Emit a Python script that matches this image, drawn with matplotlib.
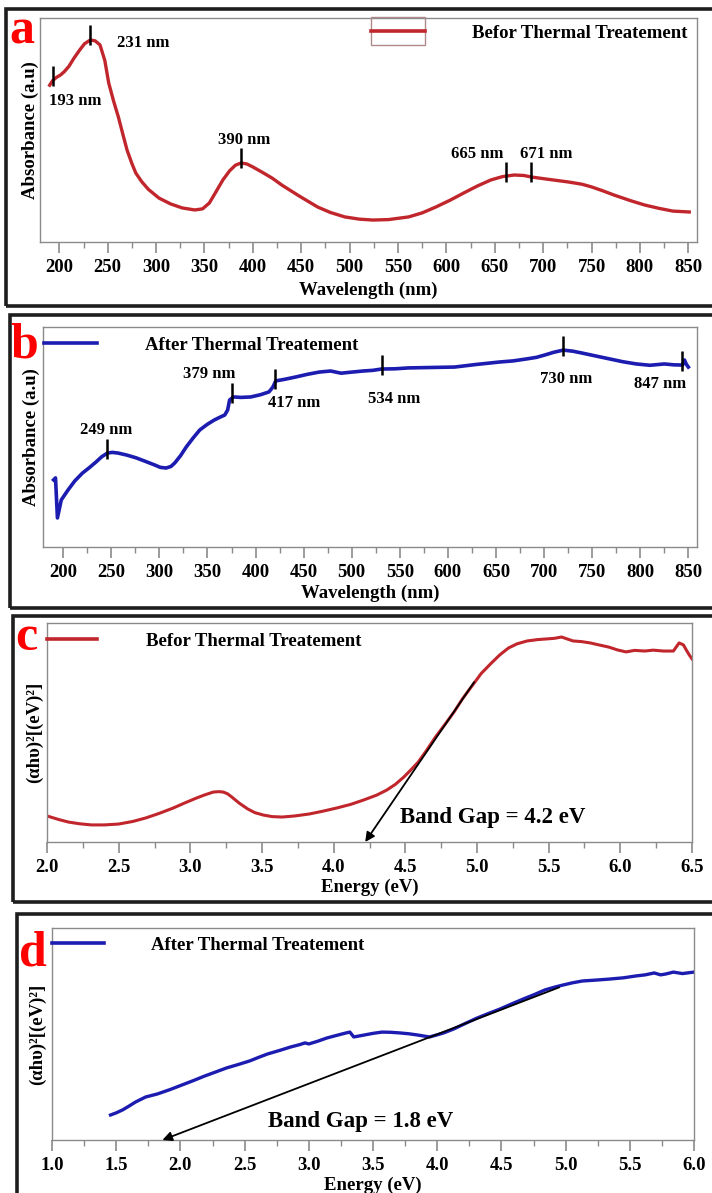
import numpy as np
import matplotlib
matplotlib.use('Agg')
import matplotlib.pyplot as plt
from matplotlib.patches import Rectangle
from matplotlib.ticker import MultipleLocator, FormatStrFormatter

# ---- data (absorbance in arbitrary units, 0..1 of the axis) ----
wl_a = [190, 193, 197, 201, 205, 210, 215, 221, 226, 232, 237, 242, 247, 251, 256, 261,
        266, 270, 275, 279, 285, 292, 303, 315, 327, 340, 348, 355, 362, 369, 376, 382,
        388, 394, 400, 411, 420, 430, 448, 467, 480, 495, 510, 524, 540, 561, 575, 589,
        604, 618, 632, 646, 658, 670, 680, 688, 705, 726, 740, 750, 762, 773, 790, 805,
        820, 834, 851]
abs_a = [0.70, 0.72, 0.735, 0.745, 0.76, 0.785, 0.82, 0.857, 0.885, 0.902, 0.898, 0.88,
         0.81, 0.71, 0.63, 0.558, 0.475, 0.41, 0.35, 0.308, 0.27, 0.235, 0.196, 0.17,
         0.152, 0.143, 0.148, 0.174, 0.225, 0.277, 0.318, 0.343, 0.353, 0.348, 0.335,
         0.308, 0.285, 0.254, 0.205, 0.156, 0.132, 0.112, 0.102, 0.098, 0.10, 0.112,
         0.13, 0.156, 0.187, 0.219, 0.25, 0.277, 0.292, 0.299, 0.297, 0.29, 0.28, 0.268,
         0.258, 0.246, 0.228, 0.21, 0.185, 0.165, 0.15, 0.138, 0.134]
peaks_a = [193, 232, 388, 662, 687]
peak_labels_a = ['193 nm', '231 nm', '390 nm', '665 nm', '671 nm']

wl_b = [190, 192, 194, 198, 205, 212, 220, 227, 234, 240, 246, 251, 257, 266, 276, 285,
        295, 301, 307, 312, 316, 322, 328, 335, 342, 350, 357, 363, 368, 371, 373, 377,
        385, 395, 405, 414, 418, 421, 430, 442, 454, 466, 478, 489, 500, 512, 522, 531,
        545, 559, 583, 607, 630, 654, 668, 682, 692, 701, 710, 720, 730, 739, 754, 768,
        782, 796, 810, 825, 835, 844, 846, 848, 850]
abs_b = [0.305, 0.314, 0.132, 0.214, 0.259, 0.30, 0.336, 0.36, 0.386, 0.41, 0.427, 0.43,
         0.427, 0.418, 0.405, 0.39, 0.373, 0.362, 0.359, 0.366, 0.382, 0.415, 0.455,
         0.495, 0.532, 0.558, 0.577, 0.59, 0.60, 0.623, 0.668, 0.682, 0.680, 0.682,
         0.692, 0.705, 0.727, 0.755, 0.762, 0.773, 0.785, 0.795, 0.80, 0.79, 0.795, 0.80,
         0.803, 0.809, 0.81, 0.814, 0.816, 0.818, 0.83, 0.841, 0.846, 0.855, 0.862,
         0.873, 0.885, 0.895, 0.89, 0.882, 0.868, 0.855, 0.842, 0.832, 0.826, 0.832,
         0.828, 0.827, 0.85, 0.83, 0.818]
peaks_b = [246, 376, 420, 531, 720, 843]
peak_labels_b = ['249 nm', '379 nm', '417 nm', '534 nm', '730 nm', '847 nm']

ev_c = [2.0, 2.08, 2.15, 2.23, 2.31, 2.4, 2.5, 2.6, 2.69, 2.78, 2.88, 2.96, 3.04, 3.1,
        3.16, 3.2, 3.23, 3.26, 3.29, 3.34, 3.40, 3.45, 3.51, 3.57, 3.64, 3.73, 3.83,
        3.92, 4.02, 4.12, 4.21, 4.3, 4.37, 4.43, 4.49, 4.54, 4.59, 4.65, 4.71, 4.78,
        4.84, 4.9, 4.97, 5.03, 5.10, 5.16, 5.22, 5.28, 5.35, 5.42, 5.48, 5.54, 5.59,
        5.63, 5.67, 5.73, 5.79, 5.85, 5.92, 5.98, 6.04, 6.1, 6.17, 6.23, 6.30, 6.37,
        6.41, 6.44, 6.46, 6.48, 6.5]
tauc_c = [0.119, 0.103, 0.091, 0.083, 0.078, 0.078, 0.082, 0.094, 0.11, 0.13, 0.155,
          0.178, 0.20, 0.215, 0.228, 0.23, 0.228, 0.22, 0.205, 0.178, 0.151, 0.134,
          0.123, 0.116, 0.114, 0.119, 0.128, 0.14, 0.155, 0.172, 0.192, 0.214, 0.237,
          0.263, 0.297, 0.33, 0.365, 0.42, 0.479, 0.54, 0.594, 0.655, 0.717, 0.77, 0.817,
          0.855, 0.886, 0.905, 0.918, 0.924, 0.927, 0.93, 0.936, 0.927, 0.918, 0.915,
          0.909, 0.90, 0.89, 0.877, 0.868, 0.875, 0.872, 0.876, 0.872, 0.872, 0.909,
          0.90, 0.877, 0.855, 0.836]
fit_c = [(4.98, 0.73), (4.22, 0.0)]
gap_c = 4.2

ev_d = [1.456, 1.5, 1.55, 1.6, 1.65, 1.73, 1.82, 1.92, 2.01, 2.1, 2.19, 2.28, 2.36, 2.45,
        2.54, 2.61, 2.68, 2.77, 2.86, 2.93, 2.97, 3.0, 3.07, 3.14, 3.22, 3.29, 3.32,
        3.35, 3.43, 3.5, 3.57, 3.64, 3.71, 3.78, 3.85, 3.94, 4.0, 4.05, 4.13, 4.22, 4.31,
        4.4, 4.49, 4.58, 4.67, 4.76, 4.84, 4.92, 4.98, 5.05, 5.13, 5.23, 5.34, 5.45,
        5.55, 5.62, 5.69, 5.74, 5.78, 5.84, 5.91, 5.96, 6.0]
tauc_d = [0.118, 0.128, 0.142, 0.16, 0.179, 0.203, 0.217, 0.238, 0.259, 0.28, 0.302,
          0.322, 0.34, 0.356, 0.373, 0.39, 0.406, 0.422, 0.439, 0.45, 0.458, 0.453,
          0.466, 0.481, 0.494, 0.505, 0.509, 0.486, 0.495, 0.503, 0.509, 0.508, 0.505,
          0.501, 0.495, 0.486, 0.496, 0.505, 0.524, 0.55, 0.575, 0.597, 0.618, 0.642,
          0.665, 0.687, 0.708, 0.722, 0.731, 0.741, 0.75, 0.754, 0.759, 0.765, 0.774,
          0.779, 0.788, 0.779, 0.783, 0.792, 0.785, 0.789, 0.792]
fit_d = [(4.95, 0.72), (1.86, 0.0)]
gap_d = 1.8

plt.rcParams['font.family'] = ['Liberation Serif', 'DejaVu Serif']
plt.rcParams['font.weight'] = 'bold'

W, H = 712, 1193
RED = '#c0262c'
BLUE = '#1c1cb0'
SPINE = '#8a8a8a'

fig = plt.figure(figsize=(W / 100, H / 100), dpi=100)


def fx(px):
    return px / W


def fy(py):
    return 1 - py / H


def make_ax(l, t, r, b):
    ax = fig.add_axes([fx(l), fy(b), (r - l) / W, (b - t) / H])
    for s in ax.spines.values():
        s.set_color(SPINE)
        s.set_linewidth(1.0)
    ax.tick_params(axis='x', which='both', direction='out', colors=SPINE,
                   labelcolor='black', labelsize=13.5, top=False)
    ax.tick_params(axis='x', which='major', length=8, width=1.2, pad=4)
    ax.tick_params(axis='x', which='minor', length=4, width=1.0)
    ax.set_yticks([])
    ax.set_ylim(0, 1)
    return ax


def frame(l, t, r, b):
    fig.patches.append(Rectangle((fx(l), fy(b)), (r - l) / W, (b - t) / H,
                                 transform=fig.transFigure, fill=False,
                                 lw=2.6, ec='#1e1e1e'))


def panel_letter(x, y, s):
    fig.text(fx(x), fy(y), s, color='red', fontsize=36, fontweight='bold',
             ha='left', va='baseline')


def peak_marks(ax, xs, ys, peaks):
    yv = np.interp(peaks, xs, ys)
    ax.plot(peaks, yv + 0.02, ls='none', marker='|', ms=14, mew=1.8, color='black')


def bold_ticks(ax):
    for lab in ax.get_xticklabels():
        lab.set_fontweight('bold')


# ---------------- panel a ----------------
frame(6, 9, 730, 306)
ax = make_ax(40, 18, 697, 242)
ax.plot(wl_a, abs_a, color=RED, lw=2.4)
peak_marks(ax, wl_a, abs_a, peaks_a)
ax.set_xlim(180, 859)
ax.xaxis.set_major_locator(MultipleLocator(50))
ax.xaxis.set_minor_locator(MultipleLocator(25))
ax.set_xlabel('Wavelength (nm)', fontsize=13.5, fontweight='bold', labelpad=4)
ax.set_ylabel('Absorbance (a.u)', fontsize=13.5, fontweight='bold', labelpad=1)
bold_ticks(ax)
for (x, y), s in zip([(49, 101), (117, 43), (218, 140), (451, 154), (520, 154)], peak_labels_a):
    fig.text(fx(x), fy(y), s, fontsize=12, fontweight='bold', ha='left', va='center')
fig.patches.append(Rectangle((fx(371), fy(45)), 54 / W, 28 / H, transform=fig.transFigure,
                             fill=False, lw=1.0, ec='#b08a8a'))
fig.lines.append(plt.Line2D([fx(371), fx(425)], [fy(31), fy(31)], transform=fig.transFigure,
                            color=RED, lw=2.6))
fig.text(fx(472), fy(33), 'Befor Thermal Treatement', fontsize=13.5, fontweight='bold',
         ha='left', va='center')
panel_letter(9, 43, 'a')

# ---------------- panel b ----------------
frame(10, 315, 730, 608)
ax = make_ax(43, 327, 697, 547)
ax.plot(wl_b, abs_b, color=BLUE, lw=2.6)
peak_marks(ax, wl_b, abs_b, peaks_b)
ax.set_xlim(179, 859)
ax.xaxis.set_major_locator(MultipleLocator(50))
ax.xaxis.set_minor_locator(MultipleLocator(25))
ax.set_xlabel('Wavelength (nm)', fontsize=13.5, fontweight='bold', labelpad=3)
ax.set_ylabel('Absorbance (a.u)', fontsize=13.5, fontweight='bold', labelpad=2)
bold_ticks(ax)
for (x, y), s in zip([(80, 430), (183, 374), (268, 403), (368, 399), (540, 379), (634, 384)],
                     peak_labels_b):
    fig.text(fx(x), fy(y), s, fontsize=12, fontweight='bold', ha='left', va='center')
fig.lines.append(plt.Line2D([fx(44), fx(97)], [fy(343), fy(343)], transform=fig.transFigure,
                            color=BLUE, lw=2.6))
fig.text(fx(145), fy(345), 'After Thermal Treatement', fontsize=13.5, fontweight='bold',
         ha='left', va='center')
panel_letter(10, 357, 'b')

# ---------------- panel c ----------------
frame(13, 616, 730, 902)
ax = make_ax(47, 623, 692, 842)
ax.plot(ev_c, tauc_c, color=RED, lw=2.2)
ax.annotate('', xy=fit_c[1], xytext=fit_c[0],
            arrowprops=dict(arrowstyle='-|>', color='black', lw=1.3, mutation_scale=14,
                            shrinkA=0, shrinkB=0))
ax.set_xlim(2.0, 6.5)
ax.xaxis.set_major_locator(MultipleLocator(0.5))
ax.xaxis.set_minor_locator(MultipleLocator(0.25))
ax.xaxis.set_major_formatter(FormatStrFormatter('%.1f'))
ax.set_xlabel('Energy (eV)', fontsize=13.5, fontweight='bold', labelpad=2)
ax.set_ylabel('(αhυ)²[(eV)²]', fontsize=13.5, fontweight='bold', labelpad=3)
bold_ticks(ax)
fig.text(fx(400), fy(818), 'Band Gap = %.1f eV' % gap_c, fontsize=16.5, fontweight='bold',
         ha='left', va='center')
fig.lines.append(plt.Line2D([fx(47), fx(97)], [fy(639), fy(639)], transform=fig.transFigure,
                            color=RED, lw=2.6))
fig.text(fx(146), fy(641), 'Befor Thermal Treatement', fontsize=13.5, fontweight='bold',
         ha='left', va='center')
panel_letter(15, 650, 'c')

# ---------------- panel d ----------------
frame(17, 914, 730, 1210)
ax = make_ax(52, 928, 694, 1140)
ax.plot(ev_d, tauc_d, color=BLUE, lw=2.4)
ax.annotate('', xy=fit_d[1], xytext=fit_d[0],
            arrowprops=dict(arrowstyle='-|>', color='black', lw=1.3, mutation_scale=14,
                            shrinkA=0, shrinkB=0))
ax.set_xlim(1.0, 6.0)
ax.xaxis.set_major_locator(MultipleLocator(0.5))
ax.xaxis.set_minor_locator(MultipleLocator(0.25))
ax.xaxis.set_major_formatter(FormatStrFormatter('%.1f'))
ax.set_xlabel('Energy (eV)', fontsize=13.5, fontweight='bold', labelpad=2)
ax.set_ylabel('(αhυ)²[(eV)²]', fontsize=13.5, fontweight='bold', labelpad=4)
bold_ticks(ax)
fig.text(fx(268), fy(1122), 'Band Gap = %.1f eV' % gap_d, fontsize=16.5, fontweight='bold',
         ha='left', va='center')
fig.lines.append(plt.Line2D([fx(52), fx(104)], [fy(943), fy(943)], transform=fig.transFigure,
                            color=BLUE, lw=2.6))
fig.text(fx(151), fy(945), 'After Thermal Treatement', fontsize=13.5, fontweight='bold',
         ha='left', va='center')
panel_letter(19, 965, 'd')

fig.savefig('out.png', dpi=100)
